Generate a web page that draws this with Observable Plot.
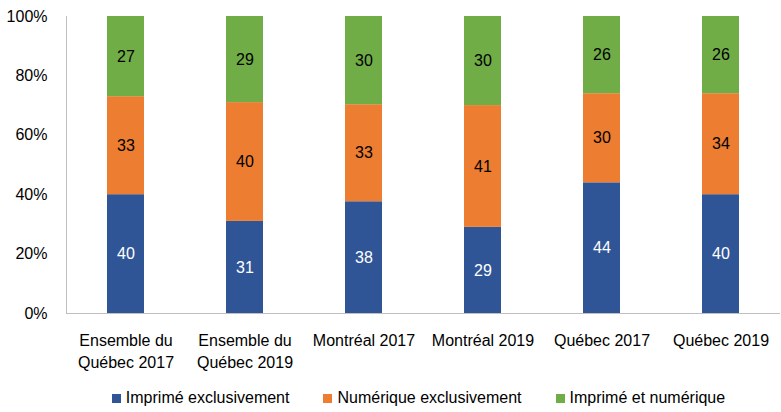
<!DOCTYPE html>
<html>
<head>
<meta charset="utf-8">
<script src="https://cdn.jsdelivr.net/npm/d3@7"></script>
<script src="https://cdn.jsdelivr.net/npm/@observablehq/plot@0.6"></script>
<style>
  body { margin: 0; background: #fff; }
  #chart { width: 781px; font-family: "Liberation Sans", Arial, sans-serif; }
  .legend { display: flex; justify-content: center; align-items: center; gap: 34px; margin-left: 56px; height: 36px; padding-top: 8px; box-sizing: border-box; font-size: 16px; color: #000; }
  .legend .item { display: flex; align-items: center; gap: 5px; }
  .legend .sw { width: 9px; height: 9px; display: inline-block; }
</style>
</head>
<body>
<div id="chart"></div>
<script>
const categories = ["Ensemble du\nQuébec 2017", "Ensemble du\nQuébec 2019", "Montréal 2017", "Montréal 2019", "Québec 2017", "Québec 2019"];
const seriesNames = ["Imprimé exclusivement", "Numérique exclusivement", "Imprimé et numérique"];
const imprime = [40, 31, 38, 29, 44, 40];
const numerique = [33, 40, 33, 41, 30, 34];
const lesDeux = [27, 29, 30, 30, 26, 26];
const colors = ["#2F5597", "#ED7D31", "#70AD47"];
const labelColors = ["#ffffff", "#000000", "#000000"];
const yTicks = [0, 0.2, 0.4, 0.6, 0.8, 1];

const seriesValues = [imprime, numerique, lesDeux];
const data = [];
seriesValues.forEach((vals, s) => {
  vals.forEach((v, i) => data.push({cat: categories[i], series: seriesNames[s], value: v, lc: labelColors[s]}));
});

// left axis line drawn from the plot's own dimensions
function leftLine(index, scales, values, dimensions) {
  const {marginLeft, marginTop, height, marginBottom} = dimensions;
  const line = document.createElementNS("http://www.w3.org/2000/svg", "line");
  line.setAttribute("x1", marginLeft + 0.5);
  line.setAttribute("x2", marginLeft + 0.5);
  line.setAttribute("y1", marginTop);
  line.setAttribute("y2", height - marginBottom);
  line.setAttribute("stroke", "#BFBFBF");
  return line;
}

const plot = Plot.plot({
  width: 781,
  height: 376,
  marginTop: 16,
  marginBottom: 63,
  marginLeft: 66,
  marginRight: 1,
  style: {fontFamily: "'Liberation Sans', Arial, sans-serif", fontSize: "16px", color: "#000", background: "#fff"},
  x: {domain: categories, paddingInner: 0.685, paddingOuter: 0.3425, label: null},
  y: {domain: [0, 1], label: null},
  color: {domain: seriesNames, range: colors},
  marks: [
    Plot.barY(data, Plot.stackY({offset: "normalize", x: "cat", y: "value", fill: "series", z: "series"})),
    Plot.text(data, Plot.stackY({offset: "normalize", x: "cat", y: "value", z: "series", text: d => String(d.value), fill: "lc", fontSize: 16})),
    Plot.ruleY([0], {stroke: "#BFBFBF", strokeWidth: 1}),
    leftLine,
    Plot.axisY({ticks: yTicks, tickFormat: d3.format(".0%"), tickSize: 0, tickPadding: 19, label: null, fontSize: 16}),
    Plot.axisX({tickSize: 0, tickPadding: 17, label: null, fontSize: 16, lineHeight: 1.375, lineAnchor: "top"})
  ]
});
document.getElementById("chart").appendChild(plot);

const legend = document.createElement("div");
legend.className = "legend";
seriesNames.forEach((n, i) => {
  const it = document.createElement("div");
  it.className = "item";
  const sw = document.createElement("span");
  sw.className = "sw";
  sw.style.background = colors[i];
  const t = document.createElement("span");
  t.textContent = n;
  it.appendChild(sw);
  it.appendChild(t);
  legend.appendChild(it);
});
document.getElementById("chart").appendChild(legend);
</script>
</body>
</html>
